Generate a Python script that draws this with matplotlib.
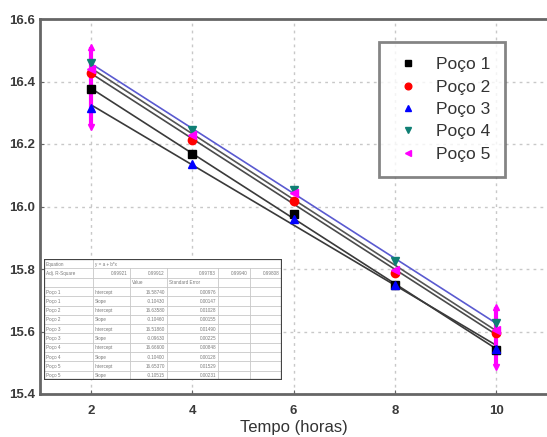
import numpy as np
import matplotlib
matplotlib.use("Agg")
import matplotlib.pyplot as plt
from matplotlib.patches import Rectangle

plt.rcParams['font.family'] = ['Liberation Sans', 'DejaVu Sans']

# ---- data ----
tempo = [2, 4, 6, 8, 10]
poco1 = [16.375, 16.167, 15.976, 15.749, 15.541]
poco2 = [16.428, 16.213, 16.018, 15.787, 15.595]
poco3 = [16.315, 16.135, 15.960, 15.749, 15.545]
poco4 = [16.458, 16.245, 16.053, 15.827, 15.627]
poco5 = [16.440, 16.230, 16.042, 15.797, 15.605]
poco5_err_low = [16.255, None, None, None, 15.487]
poco5_err_high = [16.511, None, None, None, 15.679]
labels = ['Poço 1', 'Poço 2', 'Poço 3', 'Poço 4', 'Poço 5']
xticks = [2, 4, 6, 8, 10]
yticks = [15.4, 15.6, 15.8, 16.0, 16.2, 16.4, 16.6]

series = [poco1, poco2, poco3, poco4, poco5]
colors = ['black', 'red', 'blue', '#0f7f74', 'magenta']
markers = ['s', 'o', '^', 'v', '<']
line_colors = ['#3a3a3a', '#4a4a4a', '#3a3a3a', '#5a5ad0', '#555555']

fig = plt.figure(figsize=(5.47, 4.37), dpi=100)
ax = fig.add_axes([40/547, 1-394/437, 507/547, 375/437])
ax.set_xlim(1, 11)
ax.set_ylim(15.4, 16.6)

# grid
ax.set_xticks(xticks)
ax.set_yticks(yticks)
ax.grid(True, color='#c8c8c8', linestyle=(0, (2, 3)), linewidth=1.0)
ax.set_axisbelow(True)

xa = np.array(tempo, dtype=float)
xs = np.array([min(tempo), max(tempo)], dtype=float)
fits = []
for s, lc in zip(series, line_colors):
    b, a = np.polyfit(xa, np.array(s), 1)
    fits.append((a, b))
    ax.plot(xs, a + b*xs, color=lc, lw=1.2, zorder=2)

# error bars for Poço 5
for xi, lo, hi in zip(tempo, poco5_err_low, poco5_err_high):
    if lo is None:
        continue
    ax.plot([xi, xi], [lo, hi], color='magenta', lw=3, zorder=3, solid_capstyle='butt')
    ax.plot([xi], [hi], marker='^', color='magenta', ms=4.5, zorder=3)
    ax.plot([xi], [lo], marker='v', color='magenta', ms=4.5, zorder=3)

handles = []
for s, c, m, lab in zip(series, colors, markers, labels):
    h, = ax.plot(tempo, s, linestyle='none', marker=m, color=c, ms=6, zorder=4, label=lab)
    handles.append(h)

for side in ['left', 'top', 'bottom']:
    ax.spines[side].set_color('#666666')
    ax.spines[side].set_linewidth(2)
ax.spines['right'].set_visible(False)

ax.tick_params(axis='both', direction='in', length=3, color='#666666',
               labelcolor='#3a3a3a', labelsize=9.5)
ax.tick_params(axis='y', right=False)
for t in ax.get_xticklabels() + ax.get_yticklabels():
    t.set_fontweight('bold')
ax.tick_params(axis='x', pad=8)
ax.yaxis.set_major_formatter(matplotlib.ticker.FormatStrFormatter('%.1f'))
ax.set_xlabel('Tempo (horas)', fontsize=12, color='#333333', labelpad=2)

leg = ax.legend(handles=handles, loc='upper left', bbox_to_anchor=(0.669, 0.938),
                fontsize=12.5, frameon=True, fancybox=False, markerscale=0.8,
                labelspacing=0.42, handlelength=1.6, handletextpad=0.8,
                borderpad=0.85, borderaxespad=0, labelcolor='#333333')
leg.get_frame().set_edgecolor('#666666')
leg.get_frame().set_linewidth(2)

# ---- fit table ----
tax = fig.add_axes([44/547, 1-380/437, 238/547, 121/437])
tax.set_xlim(0, 238)
tax.set_ylim(13, 0)
tax.axis('off')
tax.add_patch(Rectangle((0, 0), 238, 13, facecolor='white', edgecolor='none', zorder=0))
cols = [0, 49, 86, 123, 174, 206, 238]
nrows = 13
for r in range(1, nrows):
    tax.plot([0, 238], [r, r], color='#c8c8c8', lw=0.6)
for c in cols[1:-1]:
    tax.plot([c, c], [1 if c != cols[1] else 0, 13], color='#c8c8c8', lw=0.6)
tax.add_patch(Rectangle((0, 0), 238, 13, facecolor='none', edgecolor='#444444', lw=1.6, zorder=5))

tc = '#7a7a7a'
fs = 3.3
def cell(r, c, s, ha='left'):
    if ha == 'left':
        tax.text(cols[c] + 2, r + 0.55, s, fontsize=fs, color=tc, va='center', ha='left')
    else:
        tax.text(cols[c+1] - 2, r + 0.55, s, fontsize=fs, color=tc, va='center', ha='right')

cell(0, 0, 'Equation')
cell(0, 1, 'y = a + b*x')
cell(1, 0, 'Adj. R-Square')
for i, s in enumerate(series):
    yv = np.array(s)
    a, b = fits[i]
    res = yv - (a + b*xa)
    r2 = 1 - np.sum(res**2)/np.sum((yv-yv.mean())**2)
    adj = 1 - (1-r2)*(len(yv)-1)/(len(yv)-2)
    cell(1, i+1, f'{adj:.5f}', ha='right')
cell(2, 2, 'Value')
cell(2, 3, 'Standard Error')
row = 3
for i, s in enumerate(series):
    yv = np.array(s)
    a, b = fits[i]
    res = yv - (a + b*xa)
    sig = np.sqrt(np.sum(res**2)/(len(yv)-2))
    sxx = np.sum((xa-xa.mean())**2)
    se_b = sig/np.sqrt(sxx)
    se_a = sig*np.sqrt(1/len(xa) + xa.mean()**2/sxx)
    cell(row, 0, labels[i]); cell(row, 1, 'Intercept')
    cell(row, 2, f'{a:.5f}', ha='right'); cell(row, 3, f'{se_a:.5f}', ha='right')
    row += 1
    cell(row, 0, labels[i]); cell(row, 1, 'Slope')
    cell(row, 2, f'{b:.5f}', ha='right'); cell(row, 3, f'{se_b:.5f}', ha='right')
    row += 1

fig.savefig('out.png', dpi=100, facecolor='white')
